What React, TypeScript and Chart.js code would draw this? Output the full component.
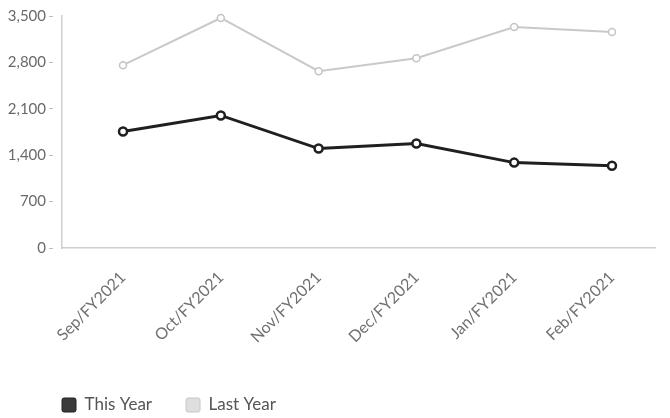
import React, { useEffect, useRef } from "react";
import { Chart, registerables } from "chart.js";

Chart.register(...registerables);

const months = ["Sep/FY2021", "Oct/FY2021", "Nov/FY2021", "Dec/FY2021", "Jan/FY2021", "Feb/FY2021"];
const thisYear = [1758, 2000, 1500, 1576, 1288, 1242];
const lastYear = [2758, 3470, 2667, 2864, 3333, 3258];
const yTicks = [0, 700, 1400, 2100, 2800, 3500];

const FONT = "Lato, 'Open Sans', sans-serif";

const legendPlacer = {
  id: "legendPlacer",
  afterLayout(chart: any) {
    const lg = chart.legend;
    if (!lg) return;
    const pad = lg.options.labels.padding;
    lg.left = 62 - pad;
    lg.top = 405 - pad - 8.5;
  },
};

export default function App() {
  const ref = useRef<HTMLCanvasElement | null>(null);
  useEffect(() => {
    document.body.style.margin = "0";
    if (!ref.current) return;
    const chart = new Chart(ref.current, {
      type: "line",
      data: {
        datasets: [
          {
            label: "This Year",
            data: thisYear.map((v, i) => ({ x: i, y: v })),
            borderColor: "#1f1f1f",
            backgroundColor: "#3a3a3a",
            borderWidth: 3,
            pointRadius: 4,
            pointBorderWidth: 2.5,
            pointBackgroundColor: "#ffffff",
            pointBorderColor: "#1f1f1f",
            tension: 0,
            clip: false,
          },
          {
            label: "Last Year",
            data: lastYear.map((v, i) => ({ x: i, y: v })),
            borderColor: "#c9c9c9",
            backgroundColor: "#dedede",
            borderWidth: 2,
            pointRadius: 3.5,
            pointBorderWidth: 1.5,
            pointBackgroundColor: "#ffffff",
            pointBorderColor: "#c4c4c4",
            tension: 0,
            clip: false,
          },
        ],
      },
      options: {
        animation: false,
        responsive: true,
        maintainAspectRatio: false,
        layout: { padding: { top: 16, left: 6, right: 15, bottom: 0 } },
        scales: {
          x: {
            type: "linear",
            min: -0.624,
            max: 5.44,
            afterBuildTicks: (axis: any) => {
              axis.ticks = months.map((_, i) => ({ value: i }));
            },
            afterFit: (axis: any) => {
              axis.height = 109;
            },
            grid: { display: false, drawTicks: false },
            border: { display: true, color: "#cfcfcf", width: 1.5 },
            ticks: {
              autoSkip: false,
              minRotation: 45,
              maxRotation: 45,
              padding: 20,
              labelOffset: 0,
              color: "#707070",
              font: { family: FONT, size: 16 },
              callback: (v: any) => months[v as number] ?? "",
            },
          },
          y: {
            min: 0,
            max: 3500,
            afterBuildTicks: (axis: any) => {
              axis.ticks = yTicks.map((v) => ({ value: v }));
            },
            afterFit: (axis: any) => {
              axis.width = 56;
            },
            grid: {
              drawOnChartArea: false,
              drawTicks: true,
              tickLength: 13,
              color: "#bdbdbd",
              tickBorderDash: [4, 20],
            },
            border: { display: true, color: "#cfcfcf", width: 1.5 },
            ticks: {
              padding: 3,
              color: "#6a6a6a",
              font: { family: FONT, size: 15 },
              callback: (v: any) => Number(v).toLocaleString("en-US"),
            },
          },
        },
        plugins: {
          tooltip: { enabled: false },
          legend: {
            position: "bottom",
            align: "start",
            labels: {
              padding: 34,
              boxWidth: 14,
              boxHeight: 14,
              color: "#555555",
              font: { family: FONT, size: 17 },
              useBorderRadius: true,
              borderRadius: 2,
              generateLabels: (c: any) =>
                (Chart.defaults.plugins.legend.labels.generateLabels as any)(c).map((l: any) => ({
                  ...l,
                  lineWidth: 1,
                  strokeStyle: l.datasetIndex === 0 ? "#222" : "#c8c8c8",
                })),
            },
          },
        },
      },
      plugins: [legendPlacer],
    } as any);
    return () => chart.destroy();
  }, []);
  return (
    <div style={{ width: 670, height: 418, position: "relative" }}>
      <canvas ref={ref} />
    </div>
  );
}
